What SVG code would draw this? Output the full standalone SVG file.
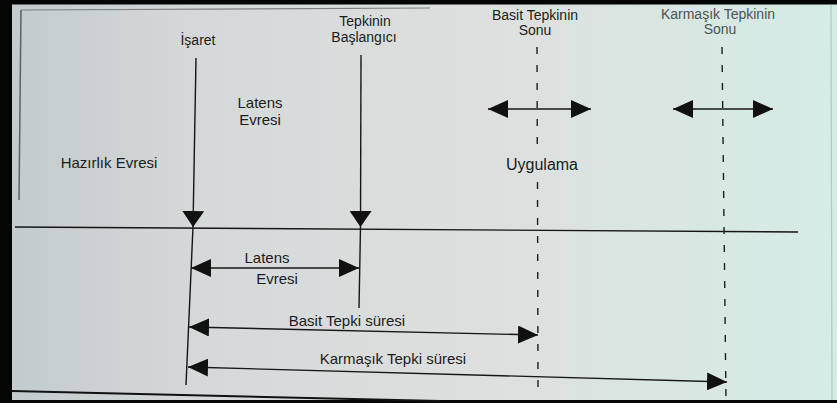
<svg xmlns="http://www.w3.org/2000/svg" width="837" height="403" viewBox="0 0 837 403">
<defs>
<linearGradient id="bg" x1="0" y1="0" x2="1" y2="0">
<stop offset="0" stop-color="#c2cacd"/>
<stop offset="0.25" stop-color="#d6d9da"/>
<stop offset="0.6" stop-color="#dde0de"/>
<stop offset="1" stop-color="#d5ece6"/>
</linearGradient>
<marker id="ah" viewBox="0 0 20 18" refX="20" refY="9" markerWidth="20" markerHeight="18" markerUnits="userSpaceOnUse" orient="auto-start-reverse">
<path d="M0,0 L20,9 L0,18 Z" fill="#111"/>
</marker>
<marker id="ahd" viewBox="0 0 16 22" refX="16" refY="11" markerWidth="16" markerHeight="22" markerUnits="userSpaceOnUse" orient="auto">
<path d="M0,0 L16,11 L0,22 Z" fill="#111"/>
</marker>
</defs>
<style>
text{font-family:"Liberation Sans",Arial,sans-serif;fill:#1c1c1c;text-anchor:middle}
.t14{font-size:14px}
.t15{font-size:15px}
.t16{font-size:16px}
.gray{fill:#4c5353}
.ln{stroke:#161616;stroke-width:1.4;fill:none}
.dash{stroke:#1e1e1e;stroke-width:1.4;fill:none;stroke-dasharray:7 11}
.arr{marker-start:url(#ah);marker-end:url(#ah)}
.arrd{marker-end:url(#ahd)}
</style>
<rect x="0" y="0" width="837" height="403" fill="url(#bg)"/>
<g id="frame">
<rect x="0" y="0" width="837" height="4.5" fill="#050505"/>
<rect x="0" y="0" width="12" height="403" fill="#050505"/>
<rect x="0" y="400" width="837" height="3" fill="#050505"/>
<line x1="21" y1="10" x2="430" y2="8" stroke="#7a8282" stroke-width="1.2"/>
<line x1="21" y1="10" x2="19" y2="200" stroke="#5a6262" stroke-width="1.5"/>
<line x1="12" y1="391" x2="440" y2="401" stroke="#111" stroke-width="2"/>
<line x1="831" y1="5" x2="832" y2="400" stroke="#b4c6c2" stroke-width="1.2"/>
</g>
<g id="connectors">
<line class="ln" x1="15" y1="227" x2="798" y2="232"/>
<line class="ln arrd" x1="196" y1="58" x2="193" y2="227"/>
<line class="ln" x1="193" y1="227" x2="186" y2="385"/>
<line class="ln arrd" x1="361" y1="55" x2="360.5" y2="227"/>
<line class="ln" x1="360.5" y1="227" x2="359" y2="308"/>
<line class="dash" x1="537" y1="47" x2="537.3" y2="150"/>
<line class="dash" x1="537.5" y1="182" x2="538" y2="388"/>
<line class="dash" x1="722" y1="47" x2="726" y2="400"/>
<line class="ln arr" x1="488" y1="109" x2="591" y2="109"/>
<line class="ln arr" x1="673" y1="109" x2="773" y2="109"/>
<line class="ln arr" x1="191" y1="268" x2="359" y2="268"/>
<line class="ln arr" x1="189" y1="327" x2="538" y2="335"/>
<line class="ln arr" x1="188" y1="367" x2="727" y2="382"/>
</g>
<g id="isaret"><text class="t14" x="198" y="45">İşaret</text></g>
<g id="tepkinin-baslangici"><text class="t14" x="365" y="26">Tepkinin</text><text class="t14" x="364" y="42">Başlangıcı</text></g>
<g id="basit-tepkinin-sonu"><text class="t14" x="535" y="20">Basit Tepkinin</text><text class="t14" x="535" y="35">Sonu</text></g>
<g id="karmasik-tepkinin-sonu"><text class="t14 gray" x="718" y="19">Karmaşık Tepkinin</text><text class="t14 gray" x="720" y="34">Sonu</text></g>
<g id="latens-evresi-ust"><text class="t15" x="260" y="108">Latens</text><text class="t15" x="260" y="125">Evresi</text></g>
<g id="hazirlik-evresi"><text class="t15" x="109" y="168">Hazırlık Evresi</text></g>
<g id="uygulama"><text class="t16" x="542" y="170">Uygulama</text></g>
<g id="latens-evresi-alt"><text class="t15" x="267" y="263">Latens</text><text class="t15" x="277" y="284">Evresi</text></g>
<g id="basit-tepki-suresi"><text class="t15" x="347" y="326">Basit Tepki süresi</text></g>
<g id="karmasik-tepki-suresi"><text class="t15" x="393" y="364">Karmaşık Tepki süresi</text></g>
</svg>
